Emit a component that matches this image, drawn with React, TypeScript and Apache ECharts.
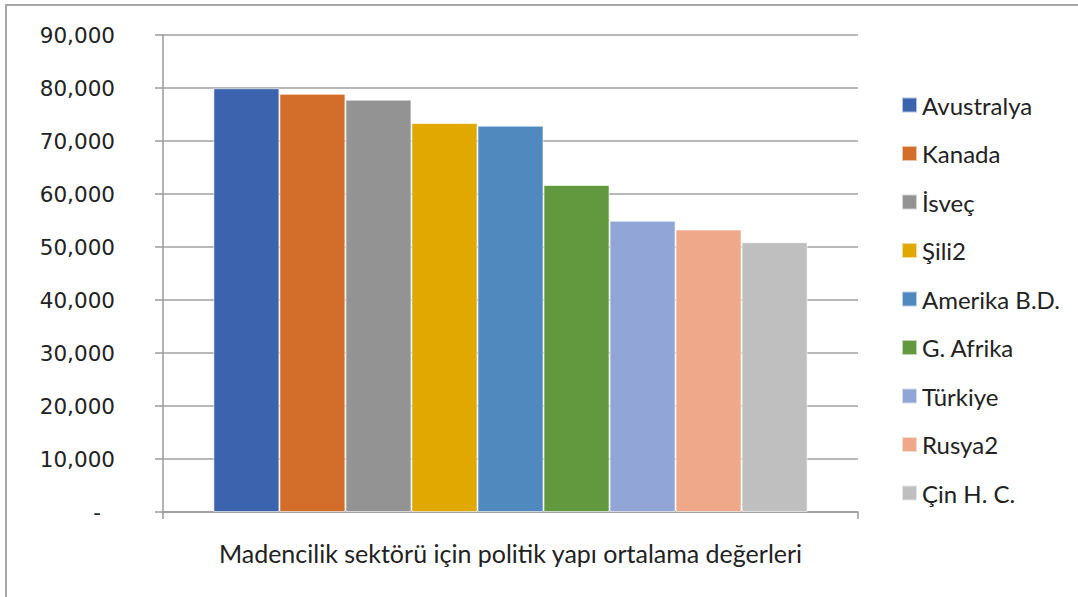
import React, { useEffect, useRef } from "react";
import * as echarts from "echarts";

const categories = [""];
const seriesNames = ["Avustralya", "Kanada", "İsveç", "Şili2", "Amerika B.D.", "G. Afrika", "Türkiye", "Rusya2", "Çin H. C."];
const seriesValues = [79950, 78900, 77800, 73400, 72900, 61700, 54950, 53300, 50900];
const seriesColors = ["#3C64AE", "#D36D2A", "#939393", "#E0A800", "#4F89BE", "#62993E", "#91A6D6", "#F0A88A", "#BFBFBF"];
const axisTitle = "Madencilik sektörü için politik yapı ortalama değerleri";

export default function App() {
  const ref = useRef<HTMLDivElement>(null);
  useEffect(() => {
    document.body.style.margin = "0";
    const chart = echarts.init(ref.current!, null, { renderer: "svg" });
    chart.setOption({
      animation: false,
      backgroundColor: "#ffffff",
      graphic: [
        {
          type: "rect",
          shape: { x: 6, y: 5, width: 1200, height: 800 },
          style: { fill: "none", stroke: "#A6A6A6", lineWidth: 2 },
          silent: true,
          z: -1,
        },
      ],
      grid: { left: 163, right: 220, top: 35, bottom: 85, containLabel: false },
      legend: {
        orient: "vertical",
        left: 896,
        top: 88,
        padding: [5, 5, 5, 5],
        itemWidth: 15,
        itemHeight: 15,
        itemGap: 24.5,
        icon: "rect",
        data: seriesNames,
        textStyle: { fontFamily: "Lato", fontSize: 24, lineHeight: 24, color: "#222" },
      },
      xAxis: {
        type: "category",
        data: categories,
        name: axisTitle,
        nameLocation: "middle",
        nameGap: 28,
        nameTextStyle: { fontFamily: "Lato", fontSize: 25, color: "#222" },
        axisLine: { lineStyle: { color: "#9A9A9A", width: 1.5 } },
        axisTick: { show: true, length: 7, lineStyle: { color: "#9A9A9A", width: 1.5 } },
        axisLabel: { show: false },
      },
      yAxis: {
        type: "value",
        min: 0,
        max: 90000,
        interval: 10000,
        axisLine: { show: true, lineStyle: { color: "#9A9A9A", width: 1.5 } },
        axisTick: { show: true, length: 8, lineStyle: { color: "#9A9A9A", width: 1.5 } },
        splitLine: { show: true, lineStyle: { color: "#A0A0A0", width: 1.5 } },
        axisLabel: {
          margin: 48,
          fontFamily: "DejaVu Sans",
          fontSize: 21.5,
          color: "#222",
          formatter: (v: number) => (v === 0 ? "{d|-}" : v.toLocaleString("en-US")),
          rich: { d: { fontFamily: "DejaVu Sans", fontSize: 21.5, color: "#222", padding: [0, 14, 0, 0] } },
        },
      },
      series: seriesNames.map((name, i) => ({
        name,
        type: "bar",
        data: [seriesValues[i]],
        barGap: "0%",
        barCategoryGap: "14.5%",
        itemStyle: { color: seriesColors[i], borderColor: "rgba(255,255,255,0.6)", borderWidth: 1 },
      })),
    });
    return () => chart.dispose();
  }, []);
  return <div ref={ref} style={{ width: 1078, height: 597 }} />;
}
